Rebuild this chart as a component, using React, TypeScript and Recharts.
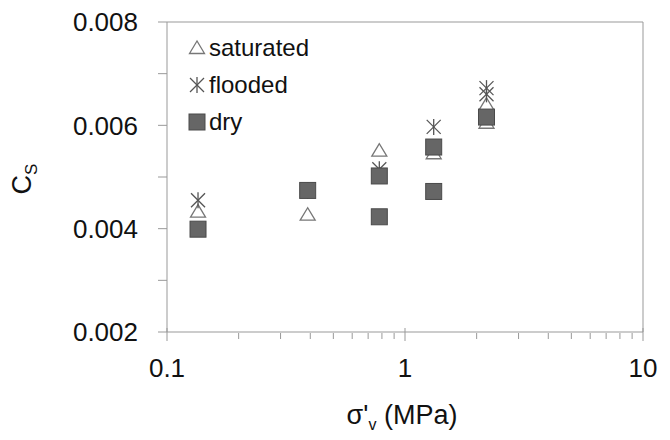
import React from 'react';
import { ScatterChart, Scatter, XAxis, YAxis, ReferenceLine } from 'recharts';

// effective vertical stress (MPa) and swelling index per series
const satX = [0.135, 0.39, 0.78, 1.32, 2.2, 2.2];
const satY = [0.00433, 0.00427, 0.00551, 0.00546, 0.0064, 0.00605];
const floodX = [0.135, 0.39, 0.78, 1.32, 2.2, 2.2];
const floodY = [0.00455, 0.00474, 0.00515, 0.00597, 0.00672, 0.0066];
const dryX = [0.135, 0.39, 0.78, 0.78, 1.32, 1.32, 2.2];
const dryY = [0.00399, 0.00474, 0.00502, 0.00423, 0.00558, 0.00472, 0.00616];

const xTicks = [0.1, 0.2, 0.3, 0.4, 0.5, 0.6, 0.7, 0.8, 0.9, 1, 2, 3, 4, 5, 6, 7, 8, 9, 10];
const xLabels = [0.1, 1, 10];
const yTicks = [0.002, 0.003, 0.004, 0.005, 0.006, 0.007, 0.008];

const toPoints = (xs: number[], ys: number[]) => xs.map((x, i) => ({ x, y: ys[i] }));
const saturated = toPoints(satX, satY);
const flooded = toPoints(floodX, floodY);
const dry = toPoints(dryX, dryY);

const FONT = '"Liberation Sans", Arial, sans-serif';
const AXIS = '#999';

const Triangle = ({ cx, cy }: any) => (
  <polygon
    points={`${cx},${cy - 7} ${cx - 7.5},${cy + 5.5} ${cx + 7.5},${cy + 5.5}`}
    fill="none"
    stroke="#777"
    strokeWidth={1.3}
  />
);

const Star = ({ cx, cy }: any) => (
  <g stroke="#555" strokeWidth={1.3}>
    <line x1={cx} y1={cy - 8} x2={cx} y2={cy + 8} />
    <line x1={cx - 7} y1={cy - 7} x2={cx + 7} y2={cy + 7} />
    <line x1={cx - 7} y1={cy + 7} x2={cx + 7} y2={cy - 7} />
  </g>
);

const Square = ({ cx, cy }: any) => (
  <rect x={cx - 8} y={cy - 8} width={16} height={16} fill="#666" stroke="#4a4a4a" strokeWidth={1} />
);

const legendItems = [
  { name: 'saturated', Shape: Triangle },
  { name: 'flooded', Shape: Star },
  { name: 'dry', Shape: Square },
];

// legend drawn straight into the svg so it does not push the plot area
const LegendBox = () => (
  <g fontFamily={FONT} fontSize={24} fill="#111">
    {legendItems.map(({ name, Shape }, i) => {
      const cy = 48 + i * 37;
      return (
        <g key={name}>
          <Shape cx={197} cy={cy} />
          <text x={209} y={cy} dy="0.35em">
            {name}
          </text>
        </g>
      );
    })}
  </g>
);

// tick y arrives a few px below the axis line, so the marks are drawn upward from it
const XTick = ({ x, y, payload }: any) => {
  const major = xLabels.some((v) => Math.abs(v - payload.value) < 1e-9);
  return (
    <g>
      <line x1={x} y1={major ? y - 12 : y - 7} x2={x} y2={major ? y + 1 : y - 1} stroke={AXIS} />
      {major && (
        <text x={x} y={y + 19} textAnchor="middle" dy="0.71em" fontSize={26} fill="#111" fontFamily={FONT}>
          {payload.value}
        </text>
      )}
    </g>
  );
};

const YTitle = ({ viewBox }: any) => {
  const x = 31;
  const y = viewBox.y + viewBox.height / 2 + 2;
  return (
    <text transform={`rotate(-90, ${x}, ${y})`} x={x} y={y} textAnchor="middle" fontSize={27} fill="#111" fontFamily={FONT}>
      C<tspan fontSize={17} dy={6}>S</tspan>
    </text>
  );
};

const XTitle = ({ viewBox }: any) => (
  <text x={viewBox.x + viewBox.width / 2 - 3} y={424} textAnchor="middle" fontSize={27} fill="#111" fontFamily={FONT}>
    σ'<tspan fontSize={16} dy={6}>v</tspan>
    <tspan dy={-6}> (MPa)</tspan>
  </text>
);

export default function App() {
  return (
    <div style={{ position: 'absolute', left: 0, top: 0, background: '#fff' }}>
      <ScatterChart width={670} height={440} margin={{ top: 22, right: 27, bottom: 0, left: 0 }}>
        <XAxis
          type="number"
          dataKey="x"
          scale="log"
          domain={[0.1, 10]}
          ticks={xTicks}
          interval={0}
          allowDataOverflow
          height={108}
          tick={<XTick />}
          tickLine={false}
          axisLine={{ stroke: AXIS }}
          label={<XTitle />}
        />
        <YAxis
          type="number"
          dataKey="y"
          domain={[0.002, 0.008]}
          ticks={yTicks}
          interval={0}
          width={167}
          tickSize={9}
          tickMargin={20}
          tickLine={{ stroke: AXIS }}
          axisLine={{ stroke: AXIS }}
          tick={{ fontSize: 26, fill: '#111', fontFamily: FONT }}
          tickFormatter={(v: number) => (Math.round(v * 1000) % 2 === 0 ? v.toFixed(3) : '')}
          label={<YTitle />}
        />
        <ReferenceLine y={0.008} stroke={AXIS} />
        <ReferenceLine x={10} stroke={AXIS} />
        <Scatter name="saturated" data={saturated} shape={<Triangle />} isAnimationActive={false} />
        <Scatter name="flooded" data={flooded} shape={<Star />} isAnimationActive={false} />
        <Scatter name="dry" data={dry} shape={<Square />} isAnimationActive={false} />
        <LegendBox />
      </ScatterChart>
    </div>
  );
}
